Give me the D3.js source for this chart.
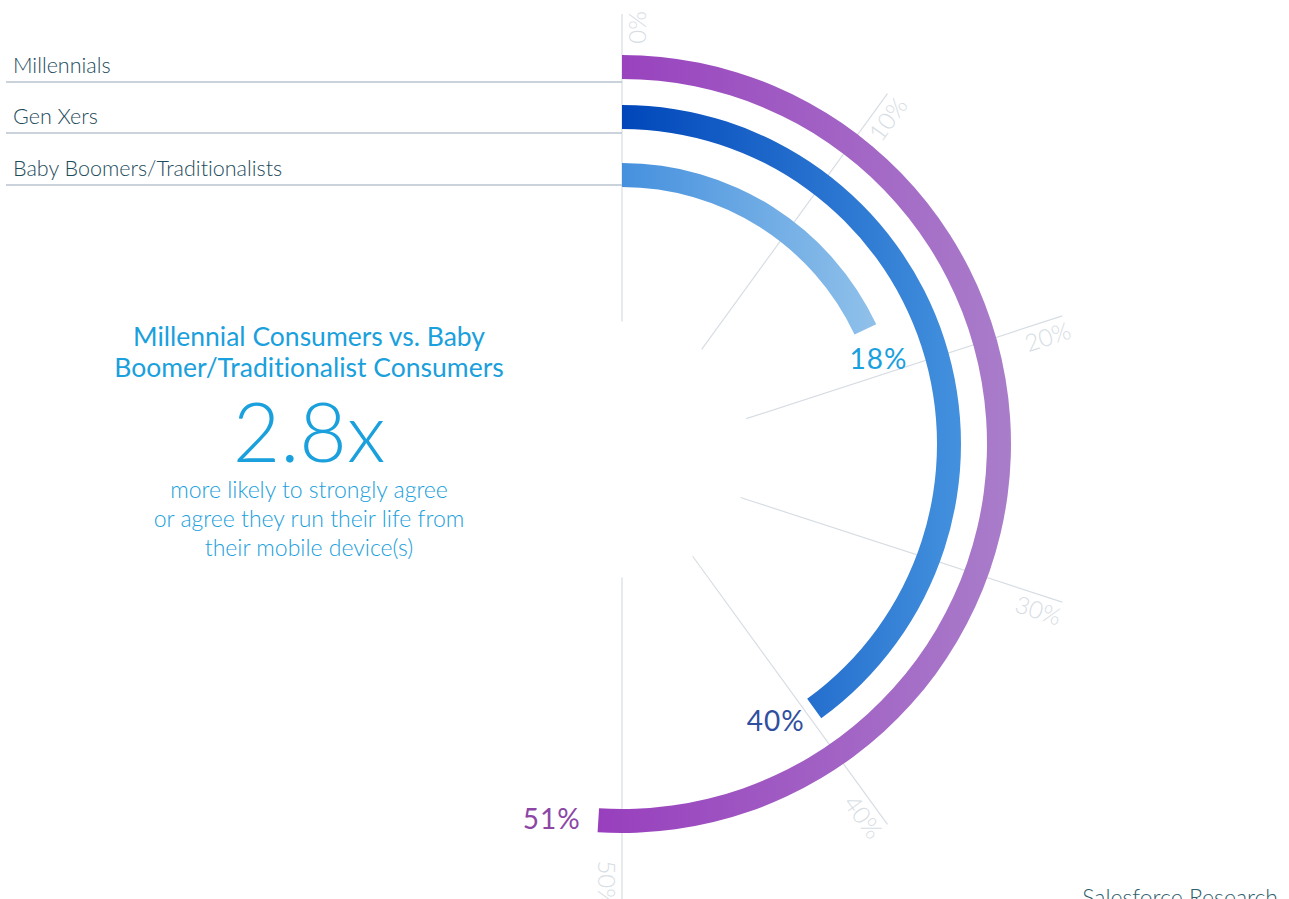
<!DOCTYPE html>
<html>
<head>
<meta charset="utf-8">
<script src="https://cdn.jsdelivr.net/npm/d3@7"></script>
<style>
  html, body { margin: 0; padding: 0; background: #fff; }
  svg { display: block; font-family: Lato, "Open Sans", sans-serif; font-variant-ligatures: none; }
</style>
</head>
<body>
<div id="chart"></div>
<script>
// Data
var categories = ['Millennials', 'Gen Xers', 'Baby Boomers/Traditionalists'];
var values = [51, 40, 18];
var tickValues = [0, 10, 20, 30, 40, 50];
var tickLabels = ['0%', '10%', '20%', '30%', '40%', '50%'];
var valueLabels = ['51%', '40%', '18%'];

var titleLines = ['Millennial Consumers vs. Baby', 'Boomer/Traditionalist Consumers'];
var bigNumber = '2.8x';
var noteLines = ['more likely to strongly agree', 'or agree they run their life from', 'their mobile device(s)'];
var sourceText = 'Salesforce Research';

// Styles
var arcColors = [['#983fbd', '#a97dca'], ['#0046ba', '#4391de'], ['#4590de', '#90c1ea']];
var labelColors = ['#8c47a6', '#30509f', '#1aa0de'];
var labelNudge = [5, -10, 1];   // radial nudge of each value label, px
var accent = '#1aa0dc';

var width = 1289;
var height = 899;

var svg = d3.select('#chart').append('svg')
    .attr('width', width)
    .attr('height', height);

var cx = 622;
var cy = 444;      // centre of the bars
var gridCy = 459;  // the spokes fan out from a point a little lower
var bandWidth = 24;

var angle = d3.scaleLinear()
    .domain([0, 50])
    .range([0, Math.PI]);

var radius = d3.scaleOrdinal()
    .domain(categories)
    .range([377, 327, 269]);

var legendY = d3.scaleOrdinal()
    .domain(categories)
    .range([82, 133, 185]);

// Gradients, one per band, running left to right
var defs = svg.append('defs');
categories.forEach(function (c, i) {
    var grad = defs.append('linearGradient')
        .attr('id', 'grad-' + i)
        .attr('x1', 0).attr('y1', 0)
        .attr('x2', 1).attr('y2', 0);
    grad.append('stop').attr('offset', '0%').attr('stop-color', arcColors[i][0]);
    grad.append('stop').attr('offset', '100%').attr('stop-color', arcColors[i][1]);
});

/* Spokes start on a small circle (a bit higher than the fan point)
   and stop on a slightly wide ellipse. */
var innerR = 128;
var innerShift = 9.5;
var outerA = 465;
var outerB = 445;

function spokeStart(a) {
    var uc = innerShift * Math.cos(a);
    return uc + Math.sqrt(uc * uc - innerShift * innerShift + innerR * innerR);
}

function spokeEnd(a) {
    var s = Math.sin(a), c = Math.cos(a);
    return 1 / Math.sqrt(s * s / (outerA * outerA) + c * c / (outerB * outerB));
}

var grid = svg.append('g')
    .attr('transform', 'translate(' + cx + ',' + gridCy + ')');

grid.selectAll('.spoke')
    .data(tickValues).enter()
    .append('line')
    .attr('class', 'spoke')
    .attr('x1', function (d) { return Math.sin(angle(d)) * spokeStart(angle(d)); })
    .attr('y1', function (d) { return -Math.cos(angle(d)) * spokeStart(angle(d)); })
    .attr('x2', function (d) { return Math.sin(angle(d)) * spokeEnd(angle(d)); })
    .attr('y2', function (d) { return -Math.cos(angle(d)) * spokeEnd(angle(d)); })
    .attr('stroke', '#d7dde3')
    .attr('stroke-width', 1.2);

grid.selectAll('.tick-label')
    .data(tickValues).enter()
    .append('text')
    .attr('class', 'tick-label')
    .attr('transform', function (d) {
        var a = angle(d);
        var r = spokeEnd(a);
        var deg = a * 180 / Math.PI - 90;
        return 'translate(' + (Math.sin(a) * r) + ',' + (-Math.cos(a) * r) + ') rotate(' + deg + ')';
    })
    .attr('x', 3)
    .attr('y', 24)
    .attr('text-anchor', 'end')
    .attr('font-size', 24)
    .attr('font-weight', 300)
    .attr('fill', '#d6dde4')
    .text(function (d, i) { return tickLabels[i]; });

// Legend rows
var legend = svg.append('g');
legend.selectAll('.legend-line')
    .data(categories).enter()
    .append('line')
    .attr('class', 'legend-line')
    .attr('x1', 6)
    .attr('x2', cx)
    .attr('y1', function (d) { return legendY(d); })
    .attr('y2', function (d) { return legendY(d); })
    .attr('stroke', '#b9c5cf')
    .attr('stroke-width', 1.5);

legend.selectAll('.legend-text')
    .data(categories).enter()
    .append('text')
    .attr('class', 'legend-text')
    .attr('x', 13)
    .attr('y', function (d) { return legendY(d) - 9; })
    .attr('font-size', 21.5)
    .attr('font-weight', 300)
    .attr('fill', '#1c4b5b')
    .text(function (d) { return d; });

// Bars
var arc = d3.arc()
    .innerRadius(function (d) { return radius(d.name) - bandWidth / 2; })
    .outerRadius(function (d) { return radius(d.name) + bandWidth / 2; })
    .startAngle(0)
    .endAngle(function (d) { return angle(d.value); });

var rows = categories.map(function (c, i) {
    return {name: c, value: values[i], label: valueLabels[i], idx: i};
});

var bars = svg.append('g')
    .attr('transform', 'translate(' + cx + ',' + cy + ')');

bars.selectAll('.bar')
    .data(rows).enter()
    .append('path')
    .attr('class', 'bar')
    .attr('d', arc)
    .attr('fill', function (d) { return 'url(#grad-' + d.idx + ')'; });

// Value labels just past the end of each bar
var labelShift = 7 * Math.PI / 180;
function labelPos(d) {
    var a = angle(d.value) + labelShift;
    var r = radius(d.name) + labelNudge[d.idx];
    return [Math.sin(a) * r, -Math.cos(a) * r];
}

bars.selectAll('.value-label')
    .data(rows).enter()
    .append('text')
    .attr('class', 'value-label')
    .attr('x', function (d) { return labelPos(d)[0]; })
    .attr('y', function (d) { return labelPos(d)[1]; })
    .attr('dy', '0.35em')
    .attr('text-anchor', 'middle')
    .attr('font-size', 28)
    .attr('letter-spacing', 1)
    .attr('fill', function (d) { return labelColors[d.idx]; })
    .text(function (d) { return d.label; });

// Call-out in the middle
var callout = svg.append('g')
    .attr('transform', 'translate(309,0)')
    .attr('text-anchor', 'middle')
    .attr('fill', accent);

callout.selectAll('.title-line')
    .data(titleLines).enter()
    .append('text')
    .attr('class', 'title-line')
    .attr('y', function (d, i) { return 346 + i * 31; })
    .attr('font-size', 26.5)
    .text(function (d) { return d; });

callout.append('text')
    .attr('y', 462)
    .attr('font-size', 82)
    .attr('font-weight', 300)
    .text(bigNumber);

callout.selectAll('.note-line')
    .data(noteLines).enter()
    .append('text')
    .attr('class', 'note-line')
    .attr('y', function (d, i) { return 498 + i * 29; })
    .attr('font-size', 23)
    .attr('font-weight', 300)
    .text(function (d) { return d; });

svg.append('text')
    .attr('x', 1278)
    .attr('y', 906)
    .attr('text-anchor', 'end')
    .attr('font-size', 23)
    .attr('font-weight', 300)
    .attr('fill', '#2f5e6d')
    .text(sourceText);
</script>
</body>
</html>
